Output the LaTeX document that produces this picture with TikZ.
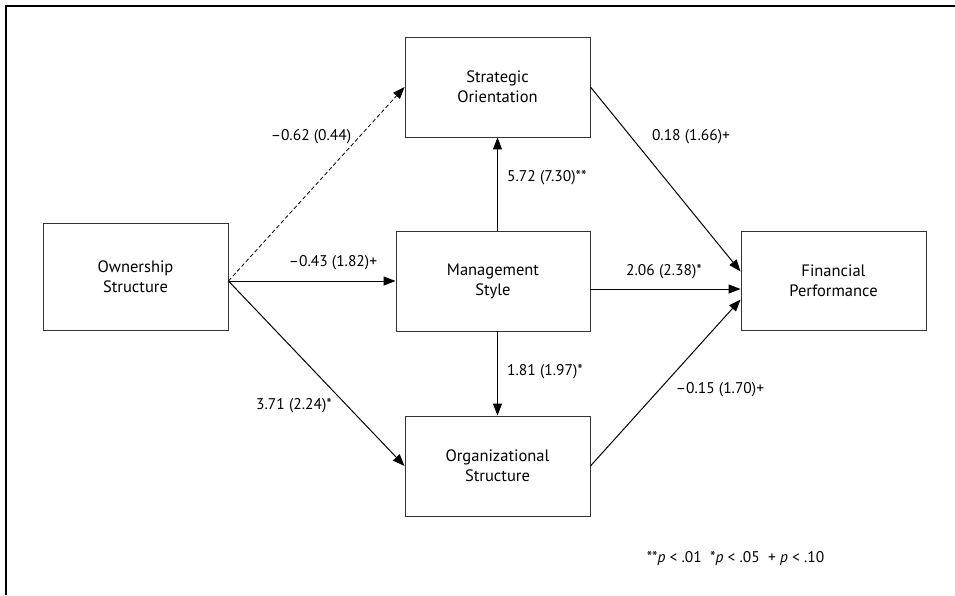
\documentclass[tikz,border=0pt]{standalone}
\usepackage{fontspec}
\setmainfont{PT Sans}
\usetikzlibrary{arrows.meta,calc}
\begin{document}
\begin{tikzpicture}[x=1pt,y=-1pt,
  box/.style={draw=black!80,line width=0.9pt,rectangle,align=center,font=\fontsize{16.5}{20}\selectfont,inner sep=0pt},
  arr/.style={line width=1pt,-{Triangle[length=12pt,width=9pt]}},
  lab/.style={font=\fontsize{15.5}{18}\selectfont,inner sep=0pt}]
\useasboundingbox (0,0) rectangle (955,595);
\draw[line width=1.3pt] (6,595) -- (6,6) -- (955,6);
\node[box,minimum width=185pt,minimum height=107pt] (own) at (135.5,276.5) {Ownership\\Structure};
\node[box,minimum width=185pt,minimum height=100pt] (strat) at (497.5,87) {Strategic\\Orientation};
\node[box,minimum width=194pt,minimum height=100pt] (mgmt) at (493,281) {Management\\Style};
\node[box,minimum width=185pt,minimum height=100pt] (org) at (497.5,466) {Organizational\\Structure};
\node[box,minimum width=185pt,minimum height=99pt] (fin) at (833.5,280.5) {Financial\\Performance};
\coordinate (o) at (own.east |- mgmt.west);
\coordinate (f1) at ($(fin.west)+(0,-9)$);
\coordinate (f2) at ($(fin.west)+(0,8.5)$);
\coordinate (f3) at ($(fin.west)+(0,19)$);
\coordinate (m2) at (mgmt.east |- f2);
\draw[arr,dashed,line width=0.8pt,dash pattern=on 4pt off 2.5pt] (o) -- (strat.west);
\draw[arr] (o) -- (mgmt.west);
\draw[arr] (o) -- (org.west);
\draw[arr] (strat.south |- mgmt.north) -- (strat.south);
\draw[arr] (org.north |- mgmt.south) -- (org.north);
\draw[arr] (strat.east) -- (f1);
\draw[arr] (m2) -- (f2);
\draw[arr] (org.east) -- (f3);
\node[lab] (l1) at (311,137) {–0.62 (0.44)};
\node[lab] (l2) at (333,263) {–0.43 (1.82)+};
\node[lab] (l3) at (294,406) {3.71 (2.24)*};
\node[lab,anchor=west] (l4) at (507,178) {5.72 (7.30)**};
\node[lab] (l5) at (691,137) {0.18 (1.66)+};
\node[lab] (l6) at (664,272) {2.06 (2.38)*};
\node[lab,anchor=west] (l7) at (507,372) {1.81 (1.97)*};
\node[lab] (l8) at (720,390) {–0.15 (1.70)+};
\node[lab,font=\fontsize{15.5}{18}\selectfont] (note) at (735.5,558) {**\textit{p} {<} .01\ \ *\textit{p} {<} .05\ \ + \textit{p} {<} .10};
\end{tikzpicture}
\end{document}
